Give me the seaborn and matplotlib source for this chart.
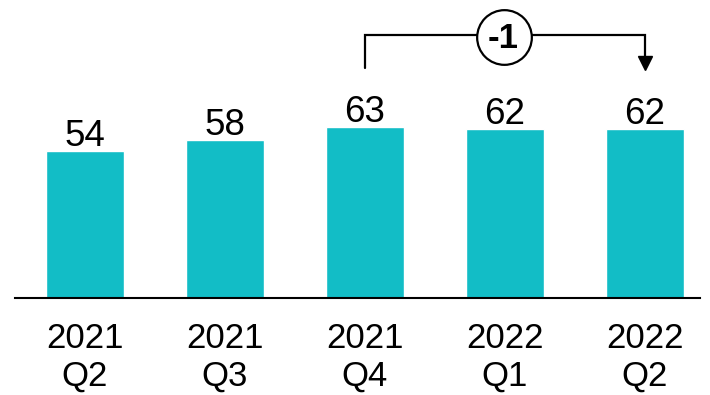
import matplotlib
matplotlib.use("Agg")
import matplotlib.pyplot as plt
import seaborn as sns
import pandas as pd

categories = ["2021\nQ2", "2021\nQ3", "2021\nQ4", "2022\nQ1", "2022\nQ2"]
values = [54, 58, 63, 62, 62]
delta_label = "-1"

sns.set_style("white")
plt.rcParams['font.family'] = ['Liberation Sans', 'DejaVu Sans']

df = pd.DataFrame({"cat": categories, "val": values})

fig = plt.figure(figsize=(7.1, 3.95), dpi=100)
ax = fig.add_axes([15/710, 1 - 298/395, 685/710, 298/395])
sns.barplot(data=df, x="cat", y="val", color="#12BDC6", saturation=1, width=0.557, ax=ax)

ax.set_ylim(0, 298/2.72)
ax.set_xlim(-0.5, (700-85)/140)
for s in ["top", "right", "left"]:
    ax.spines[s].set_visible(False)
ax.spines["bottom"].set_color("black")
ax.spines["bottom"].set_linewidth(1.5)
ax.set_yticks([])
ax.set_xlabel("")
ax.set_ylabel("")
ax.tick_params(axis="x", length=0, pad=17, labelsize=25, labelcolor="black")
for lbl in ax.get_xticklabels():
    lbl.set_linespacing(1.2)

for i, v in enumerate(values):
    ax.annotate(str(v), (i, v), xytext=(0, 3.5), textcoords="offset points",
                ha="center", va="baseline", fontsize=26.5, color="black")

# bracket
y_top = (298 - 35) / 2.72
y_left = (298 - 68) / 2.72
y_tip = (298 - 70) / 2.72
ax.plot([2, 2, 4, 4], [y_left, y_top, y_top, y_tip + 4], color="black", lw=1.6,
        solid_joinstyle="miter", clip_on=False)
ax.plot([4], [y_tip + 2.4], marker="v", markersize=10, color="black", clip_on=False)
ax.scatter([2.99], [(298 - 37) / 2.72], s=1550, facecolor="white", edgecolor="black",
           linewidth=1.6, zorder=5, clip_on=False)
ax.text(2.99, (298 - 38) / 2.72, delta_label, ha="center", va="center", fontsize=25,
        fontweight="bold", color="black", zorder=6)

fig.savefig("out.png", dpi=100)
